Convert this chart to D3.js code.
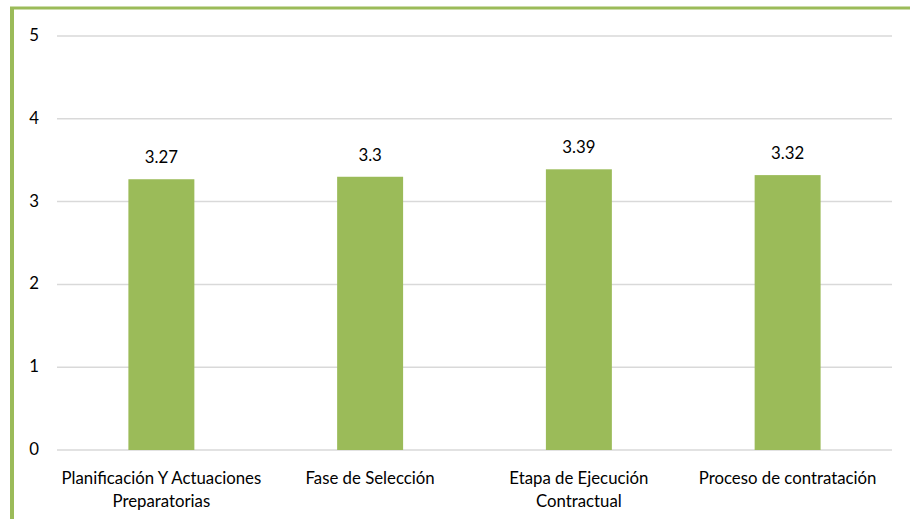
<!DOCTYPE html>
<html><head><meta charset="utf-8">
<script src="https://cdn.jsdelivr.net/npm/d3@7/dist/d3.min.js"></script>
<style>body{margin:0;background:#fff}svg{display:block}text{font-family:Lato,"Open Sans",sans-serif;fill:#000;font-weight:400}</style>
</head><body>
<svg id="c" width="910" height="519"></svg>
<script>
const categories = [["Planificación Y Actuaciones","Preparatorias"],["Fase de Selección"],["Etapa de Ejecución","Contractual"],["Proceso de contratación"]];
const values = [3.27, 3.3, 3.39, 3.32];
const yTicks = [0,1,2,3,4,5];

const svg = d3.select("#c");
const W = 910, H = 519;
const m = {left:57, right:18, top:36, bottom:69};
const x = d3.scaleBand().domain(d3.range(categories.length)).range([m.left, W-m.right]).paddingInner(0.684).paddingOuter(0.342);
const y = d3.scaleLinear().domain([0,5]).range([H-m.bottom, m.top]);
const fs = "16.8px";

// border
svg.append("line").attr("x1",10).attr("x2",W).attr("y1",8).attr("y2",8).attr("stroke","#9bbb59").attr("stroke-width",3);
svg.append("line").attr("x1",12).attr("x2",12).attr("y1",7).attr("y2",H).attr("stroke","#9bbb59").attr("stroke-width",4);

// grid
svg.append("g").selectAll("line").data(yTicks).join("line")
  .attr("x1",m.left).attr("x2",W-m.right).attr("y1",d=>y(d)).attr("y2",d=>y(d))
  .attr("stroke","#d9d9d9").attr("stroke-width",1.5);
svg.append("g").selectAll("text").data(yTicks).join("text")
  .attr("x",34).attr("y",d=>y(d)+5).attr("text-anchor","middle")
  .style("font-size",fs).text(d=>d);

// bars
svg.append("g").selectAll("rect").data(values).join("rect")
  .attr("x",(d,i)=>x(i)).attr("width",x.bandwidth())
  .attr("y",d=>y(d)).attr("height",d=>y(0)-y(d)).attr("fill","#9bbb59");
svg.append("g").selectAll("text").data(values).join("text")
  .attr("x",(d,i)=>x(i)+x.bandwidth()/2).attr("y",d=>y(d)-16)
  .attr("text-anchor","middle").style("font-size",fs).text(d=>d);

// category labels
const cg = svg.append("g").selectAll("text").data(categories).join("text")
  .attr("x",(d,i)=>x(i)+x.bandwidth()/2).attr("y",484)
  .attr("text-anchor","middle").style("font-size",fs);
cg.selectAll("tspan").data(d=>d).join("tspan")
  .attr("x",function(){return this.parentNode.getAttribute("x");})
  .attr("dy",(d,i)=>i===0?0:23).text(d=>d);
</script>
</body></html>
